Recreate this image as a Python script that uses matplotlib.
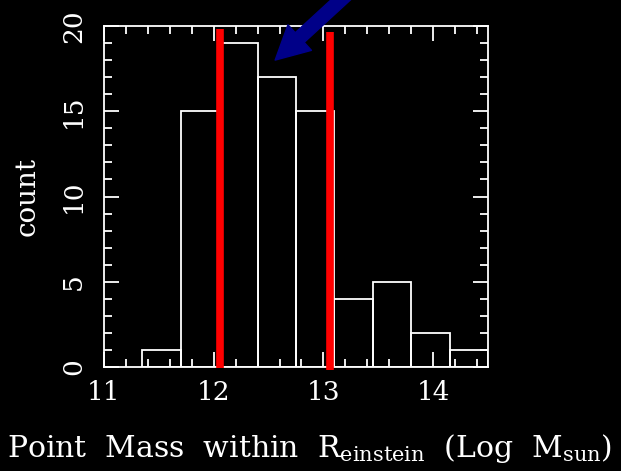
import numpy as np
import matplotlib.pyplot as plt
from matplotlib.ticker import MultipleLocator

# histogram of log point mass inside the Einstein radius
bin_edges = [11.35, 11.70, 12.05, 12.40, 12.75, 13.10, 13.45, 13.80, 14.15, 14.50]
counts = [1, 15, 19, 17, 15, 4, 5, 2, 1]

# the two red marker lines (x, bottom, top)
red_x = [12.06, 13.06]
red_bot = [-0.05, -0.2]
red_top = [19.8, 19.65]

# arrow: tail -> tip in data coords
arrow_tail = (13.22, 21.9)
arrow_tip = (12.56, 18.0)

FG = "white"
plt.rcParams["font.family"] = "DejaVu Serif"
plt.rcParams["mathtext.fontset"] = "dejavuserif"

fig = plt.figure(figsize=(6.21, 4.71), dpi=100, facecolor="black")
ax = fig.add_axes([104/621, 104/471, 384/621, 341/471], facecolor="black")

edges = np.array(bin_edges)
ax.bar(edges[:-1], counts, width=np.diff(edges), align="edge",
       fill=False, edgecolor=FG, lw=1.3)

for x, b, t in zip(red_x, red_bot, red_top):
    ax.plot([x, x], [b, t], color="#ff0000", lw=5.5, solid_capstyle="butt",
            clip_on=False, zorder=3)

ax.annotate("", xy=arrow_tip, xytext=arrow_tail, annotation_clip=False,
            arrowprops=dict(arrowstyle="simple,head_length=2.4,head_width=2.5,tail_width=0.95",
                            mutation_scale=10, fc="#000088", ec="#000088",
                            shrinkA=0, shrinkB=0))

ax.set_xlim(11, 14.5)
ax.set_ylim(0, 20)
ax.xaxis.set_major_locator(MultipleLocator(1))
ax.xaxis.set_minor_locator(MultipleLocator(0.2))
ax.yaxis.set_major_locator(MultipleLocator(5))
ax.yaxis.set_minor_locator(MultipleLocator(1))

for s in ax.spines.values():
    s.set_color(FG)
    s.set_linewidth(1.3)

ax.tick_params(which="both", direction="in", top=True, right=True,
               colors=FG, width=1.3, labelsize=19)
ax.tick_params(which="major", length=11)
ax.tick_params(which="minor", length=5.5)
ax.tick_params(axis="x", pad=9)
ax.tick_params(axis="y", pad=13)
for lab in ax.get_yticklabels():
    lab.set_rotation(90)
    lab.set_va("center")

fig.text(27/621, 1 - 196/471, "count", color=FG, fontsize=20,
         rotation=90, ha="center", va="center")
fig.text(310/621, 14/471,
         r"Point  Mass  within  R$_{\rm einstein}$  (Log  M$_{\rm sun}$)",
         color=FG, fontsize=21.5, ha="center", va="baseline")

fig.savefig("out.png", dpi=100, facecolor="black")
